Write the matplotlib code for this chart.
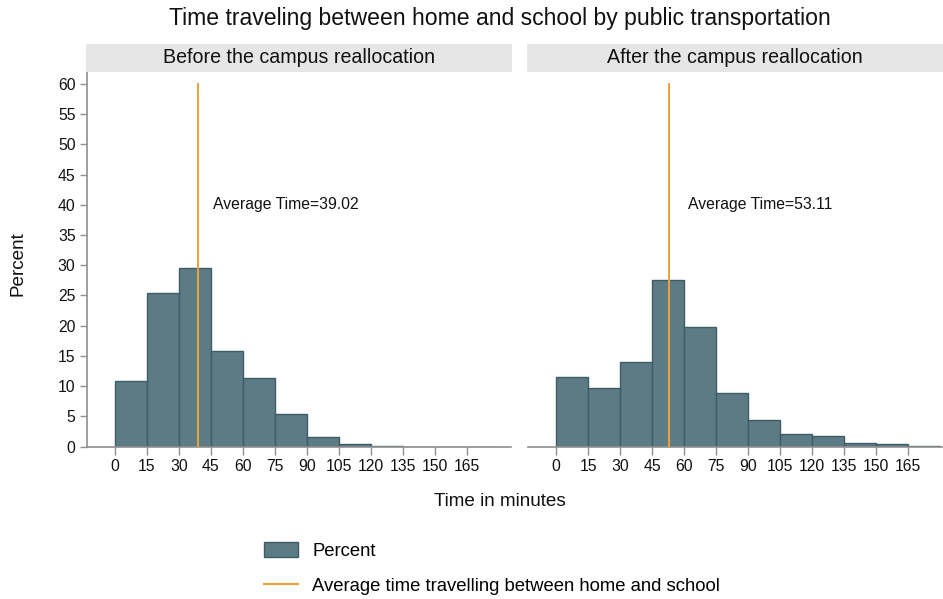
import matplotlib
matplotlib.use("Agg")
import matplotlib.pyplot as plt
from matplotlib.patches import Rectangle, Patch
from matplotlib.lines import Line2D

plt.rcParams['font.family'] = ['Liberation Sans', 'DejaVu Sans']

# Histogram data: 15-minute bins, percent of students
bin_edges = [0, 15, 30, 45, 60, 75, 90, 105, 120, 135, 150, 165, 180]
before_pct = [10.9, 25.4, 29.6, 15.9, 11.4, 5.4, 1.55, 0.4, 0.17, 0.0, 0.0, 0.0]
after_pct = [11.5, 9.7, 14.0, 27.6, 19.8, 8.9, 4.4, 2.1, 1.8, 0.6, 0.45, 0.17]
mean_before = 39.02
mean_after = 53.11
panel_titles = ["Before the campus reallocation", "After the campus reallocation"]
x_ticks = [0, 15, 30, 45, 60, 75, 90, 105, 120, 135, 150, 165]
y_ticks = list(range(0, 61, 5))

W, H = 943, 599
BAR_FILL = "#5c7b84"
BAR_EDGE = "#3d5c67"
MEAN_COLOR = "#eaa23a"
AXIS_COLOR = "#8f8f8f"
STRIP_COLOR = "#e6e6e6"
TICK_FS = 11.3

fig = plt.figure(figsize=(W / 100, H / 100), dpi=100)


def px_axes(x0, y0, x1, y1, **kw):
    return fig.add_axes([x0 / W, 1 - y1 / H, (x1 - x0) / W, (y1 - y0) / H], **kw)


panels = [
    dict(box=(86.7, 71.7, 511.0, 446.7), xlim=(-13.1, 185.5), strip=(86.0, 512.0),
         vals=before_pct, mean=mean_before, text_x=46.0, title=panel_titles[0], yaxis=True),
    dict(box=(527.7, 71.7, 941.7, 446.7), xlim=(-13.3, 180.8), strip=(527.0, 943.0),
         vals=after_pct, mean=mean_after, text_x=62.0, title=panel_titles[1], yaxis=False),
]

for p in panels:
    x0, y0, x1, y1 = p["box"]
    ax = px_axes(x0, y0, x1, y1)
    lefts = bin_edges[:-1]
    widths = [b - a for a, b in zip(bin_edges[:-1], bin_edges[1:])]
    ax.bar(lefts, p["vals"], width=widths, align="edge", color=BAR_FILL,
           edgecolor=BAR_EDGE, linewidth=1.0, zorder=2)
    ax.plot([p["mean"], p["mean"]], [0, 60], color=MEAN_COLOR, lw=1.4, zorder=3)
    ax.text(p["text_x"], 40, f"Average Time={p['mean']:.2f}", fontsize=TICK_FS,
            ha="left", va="center", color="#111111")
    ax.set_xlim(*p["xlim"])
    ax.set_ylim(0, 62)
    ax.set_xticks(x_ticks)
    ax.set_xticklabels([str(t) for t in x_ticks], fontsize=TICK_FS)
    for s in ["top", "right"]:
        ax.spines[s].set_visible(False)
    ax.spines["bottom"].set_color(AXIS_COLOR)
    ax.spines["bottom"].set_linewidth(1.2)
    ax.tick_params(axis="x", colors=AXIS_COLOR, labelcolor="#111111", length=6,
                   width=1.0, pad=3)
    if p["yaxis"]:
        ax.spines["left"].set_color(AXIS_COLOR)
        ax.spines["left"].set_linewidth(1.2)
        ax.set_yticks(y_ticks)
        ax.set_yticklabels([str(t) for t in y_ticks], fontsize=TICK_FS)
        ax.tick_params(axis="y", colors=AXIS_COLOR, labelcolor="#111111", length=5,
                       width=1.0, pad=3)
    else:
        ax.spines["left"].set_visible(False)
        ax.set_yticks([])
    ax.patch.set_alpha(0)

    # panel strip
    sx0, sx1 = p["strip"]
    sax = px_axes(sx0, 44.0, sx1, 71.7)
    sax.set_axis_off()
    sax.add_patch(Rectangle((0, 0), 1, 1, transform=sax.transAxes,
                            facecolor=STRIP_COLOR, edgecolor="none"))
    sax.text(0.5, 0.5, p["title"], transform=sax.transAxes, ha="center",
             va="center", fontsize=14.1, color="#111111")

fig.text(500 / W, 1 - 18 / H, "Time traveling between home and school by public transportation",
         ha="center", va="center", fontsize=16.6, color="#111111")
fig.text(500 / W, 1 - 501 / H, "Time in minutes", ha="center", va="center",
         fontsize=13.6, color="#111111")
fig.text(18 / W, 1 - 264 / H, "Percent", ha="center", va="center", rotation=90,
         fontsize=13.6, color="#111111")

handles = [Patch(facecolor=BAR_FILL, edgecolor=BAR_EDGE, linewidth=1.0),
           Line2D([0], [0], color=MEAN_COLOR, lw=1.5)]
labels = ["Percent", "Average time travelling between home and school"]
fig.legend(handles, labels, loc="upper left", bbox_to_anchor=(264 / W, 1 - 542 / H),
           frameon=False, fontsize=13.3, handlelength=1.84, handleheight=0.86,
           labelspacing=0.92, handletextpad=0.76, borderaxespad=0, borderpad=0)

fig.savefig("out.png", dpi=100, facecolor="white")
